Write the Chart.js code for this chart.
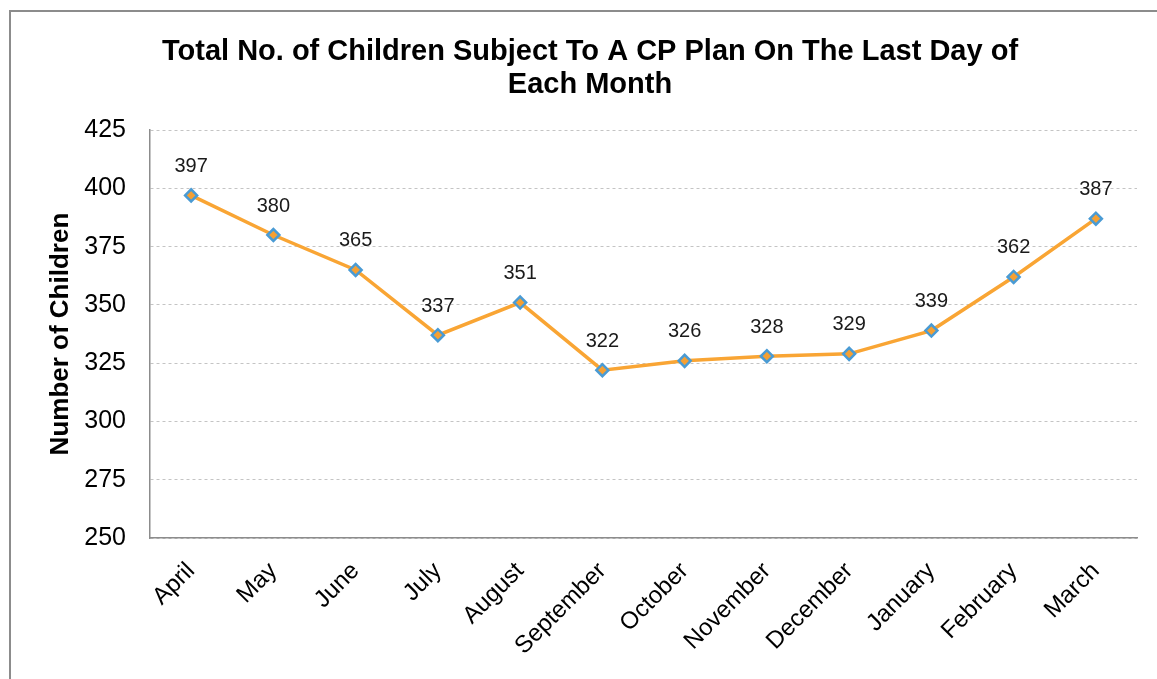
<!DOCTYPE html>
<html>
<head>
<meta charset="utf-8">
<script src="https://cdn.jsdelivr.net/npm/chart.js@4"></script>
<style>
  html, body { margin: 0; padding: 0; background: #fff; }
  #wrap { position: relative; width: 1157px; height: 679px; overflow: hidden; }
  #frame { position: absolute; left: 9px; top: 10px; width: 1200px; height: 700px; border: 2px solid #8c8c8c; box-sizing: border-box; }
  canvas { position: absolute; left: 0; top: 0; }
</style>
</head>
<body>
<div id="wrap">
  <div id="frame"></div>
  <canvas id="grafico" width="1157" height="679"></canvas>
</div>
<script>
// meses y valores del gráfico
var meses = ['April', 'May', 'June', 'July', 'August', 'September', 'October', 'November', 'December', 'January', 'February', 'March'];
var ninos = [397, 380, 365, 337, 351, 322, 326, 328, 329, 339, 362, 387];
var ejeMin = 250, ejeMax = 425, paso = 25;

var fuente = '"Liberation Sans", Arial, sans-serif';

// etiquetas de valor encima de cada punto
var etiquetas = {
  id: 'etiquetas',
  afterDatasetsDraw: function (chart) {
    var ctx = chart.ctx;
    var meta = chart.getDatasetMeta(0);
    ctx.save();
    ctx.font = '20px ' + fuente;
    ctx.fillStyle = '#1a1a1a';
    ctx.textAlign = 'center';
    ctx.textBaseline = 'middle';
    meta.data.forEach(function (p, i) {
      ctx.fillText(chart.data.datasets[0].data[i], p.x, p.y - 29);
    });
    ctx.restore();
  }
};

var ctx = document.getElementById('grafico').getContext('2d');
new Chart(ctx, {
  type: 'line',
  data: {
    labels: meses,
    datasets: [{
      data: ninos,
      borderColor: '#F9A534',
      borderWidth: 3.5,
      pointStyle: 'rectRot',
      pointRadius: 6,
      pointBackgroundColor: '#F5A033',
      pointBorderColor: '#4A9BD4',
      pointBorderWidth: 2.5,
      tension: 0
    }]
  },
  options: {
    responsive: false,
    animation: false,
    layout: { padding: { left: 43, right: 20, top: 10, bottom: 0 } },
    plugins: {
      legend: { display: false },
      tooltip: { enabled: false },
      title: {
        display: true,
        text: ['Total No. of Children Subject To A CP Plan On The Last Day of', 'Each Month'],
        color: '#000',
        font: { family: fuente, size: 29, weight: 'bold', lineHeight: 1.14 },
        padding: { top: 25, bottom: 29 }
      }
    },
    scales: {
      x: {
        offset: true,
        grid: { display: false, drawTicks: false, tickLength: 0 },
        border: { display: true, color: '#8c8c8c', width: 1.5 },
        ticks: {
          color: '#000',
          font: { family: fuente, size: 24 },
          minRotation: 45,
          maxRotation: 45,
          padding: 19
        },
        afterFit: function (s) { s.height = 141; }
      },
      y: {
        min: ejeMin,
        max: ejeMax,
        grid: { color: '#c4c4c4', lineWidth: 1, drawTicks: false, tickLength: 0 },
        // rejilla discontinua, eje continuo
        border: { display: true, color: '#8c8c8c', width: 1.5, dash: [3, 3] },
        ticks: {
          stepSize: paso,
          color: '#000',
          font: { family: fuente, size: 25 },
          padding: 24
        },
        title: {
          display: true,
          text: 'Number of Children',
          color: '#000',
          font: { family: fuente, size: 26, weight: 'bold' },
          padding: { top: 2, bottom: 0 }
        },
        afterFit: function (s) { s.width = 107; }
      }
    }
  },
  plugins: [etiquetas]
});
</script>
</body>
</html>
